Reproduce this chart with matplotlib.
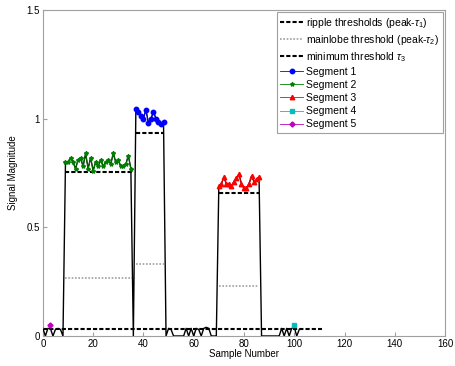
import matplotlib
matplotlib.use('Agg')
import matplotlib.pyplot as plt

plt.rcParams['font.family'] = ['Liberation Sans', 'DejaVu Sans']
plt.rcParams['mathtext.fontset'] = 'custom'
plt.rcParams['mathtext.rm'] = 'Liberation Sans'
plt.rcParams['mathtext.it'] = 'Liberation Sans:italic'

# signal magnitude, one value per sample (0..102)
signal = [0.035, 0.0, 0.035, 0.035, 0.0, 0.03, 0.035, 0.03, 0.0,
          0.80, 0.80, 0.82, 0.80, 0.77, 0.81, 0.82, 0.78, 0.84, 0.77, 0.82,
          0.76, 0.80, 0.78, 0.81, 0.78, 0.80, 0.81, 0.79, 0.84, 0.80, 0.81,
          0.78, 0.78, 0.79, 0.83, 0.77,
          0.0,
          1.045, 1.03, 1.01, 1.00, 1.04, 0.98, 1.00, 1.03, 1.00, 0.985, 0.975, 0.985,
          0.0, 0.035, 0.03, 0.0, 0.0, 0.0, 0.0, 0.0, 0.035, 0.0, 0.035, 0.0,
          0.035, 0.03, 0.0, 0.035, 0.04, 0.035, 0.0, 0.0, 0.0,
          0.69, 0.70, 0.73, 0.70, 0.70, 0.69, 0.71, 0.725, 0.745, 0.70, 0.68,
          0.68, 0.70, 0.735, 0.71, 0.72, 0.73,
          0.0, 0.0, 0.0, 0.0, 0.0, 0.0, 0.0, 0.0,
          0.035, 0.0, 0.035, 0.0, 0.035, 0.04, 0.0, 0.03]
samples = list(range(len(signal)))

# segments: (first sample, last sample)
seg1 = (37, 48)
seg2 = (9, 35)
seg3 = (70, 86)
seg4_x, seg4_y = [100], [0.05]
seg5_x, seg5_y = [3], [0.05]

# thresholds: start, end, level
ripple = [(9, 36, 0.755), (37, 48, 0.935), (70, 86, 0.66)]
mainlobe = [(9, 36, 0.265), (37, 48, 0.33), (70, 86, 0.23)]
minimum = (0, 111, 0.03)

fig = plt.figure(figsize=(4.56, 3.66), dpi=100)
ax = fig.add_axes([0.094, 0.082, 0.882, 0.891])

for i, (a, b, lv) in enumerate(ripple):
    ax.plot([a, b], [lv, lv], color='black', lw=1.5, ls=(0, (2, 1)),
            label='ripple thresholds (peak-$\\tau_1$)' if i == 0 else None)
for i, (a, b, lv) in enumerate(mainlobe):
    ax.plot([a, b], [lv, lv], color='#a0a0a0', lw=1.2, ls=(0, (1, 1)),
            label='mainlobe threshold (peak-$\\tau_2$)' if i == 0 else None)
ax.plot([minimum[0], minimum[1]], [minimum[2], minimum[2]], color='black',
        lw=1.5, ls=(0, (2, 1)), label='minimum threshold $\\tau_3$')

ax.plot(samples, signal, color='black', lw=1.0, zorder=3)

def seg(rng):
    xs = list(range(rng[0], rng[1] + 1))
    return xs, [signal[k] for k in xs]

x1, y1 = seg(seg1)
x2, y2 = seg(seg2)
x3, y3 = seg(seg3)
ax.plot(x1, y1, color='blue', lw=0.6, marker='o', ms=3.2, label='Segment 1', zorder=4)
ax.plot(x2, y2, color='green', lw=0.6, marker='*', ms=3, label='Segment 2', zorder=4)
ax.plot(x3, y3, color='red', lw=0.6, marker='^', ms=3.2, label='Segment 3', zorder=4)
ax.plot(seg4_x, seg4_y, color='#00bfbf', lw=0.6, marker='s', ms=3, label='Segment 4', zorder=4)
ax.plot(seg5_x, seg5_y, color='#bf00bf', lw=0.6, marker='D', ms=2.6, label='Segment 5', zorder=4)

ax.set_xlim(0, 160)
ax.set_ylim(0, 1.5)
ax.set_xticks(range(0, 161, 20))
ax.set_yticks([0, 0.5, 1, 1.5])
ax.set_yticklabels(['0', '0.5', '1', '1.5'])
ax.tick_params(direction='in', length=3, labelsize=7, color='#a0a0a0', pad=2)
for s in ax.spines.values():
    s.set_color('#a0a0a0')
    s.set_linewidth(0.8)
ax.set_xlabel('Sample Number', fontsize=7, labelpad=0)
ax.set_ylabel('Signal Magnitude', fontsize=7, labelpad=6)

leg = ax.legend(loc='upper right', fontsize=7.5, handlelength=2.2, handletextpad=0.3,
                labelspacing=0.3, borderpad=0.35, fancybox=False, framealpha=1,
                borderaxespad=0.2)
leg.get_frame().set_edgecolor('#a0a0a0')
leg.get_frame().set_linewidth(0.8)

fig.savefig('out.png', dpi=100)
